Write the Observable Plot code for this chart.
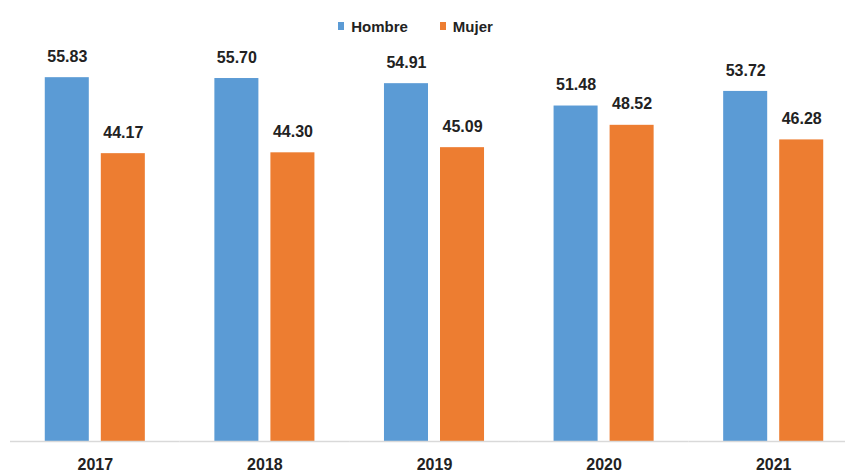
<!DOCTYPE html>
<html>
<head>
<meta charset="utf-8">
<script src="https://cdn.jsdelivr.net/npm/d3@7"></script>
<script src="https://cdn.jsdelivr.net/npm/@observablehq/plot@0.6"></script>
<style>
  html, body { margin: 0; padding: 0; background: #fff; }
  body { width: 845px; height: 474px; overflow: hidden; font-family: "Liberation Sans", Arial, sans-serif; }
  #legend { height: 40px; display: flex; justify-content: center; align-items: center; padding-top: 12px; box-sizing: border-box; padding-right: 14px; font-size: 15px; font-weight: bold; color: #222; }
  .item { display: flex; align-items: center; margin: 0 16px; }
  .sw { width: 6px; height: 8px; margin-right: 7px; }
</style>
</head>
<body>
<div id="legend"></div>
<div id="chart"></div>
<script>
const years = ["2017", "2018", "2019", "2020", "2021"];
const series = ["Hombre", "Mujer"];
const hombre = [55.83, 55.70, 54.91, 51.48, 53.72];
const mujer = [44.17, 44.30, 45.09, 48.52, 46.28];
const colors = ["#5B9BD5", "#ED7D31"];

const data = [];
years.forEach((y, i) => {
  data.push({year: y, sexo: "Hombre", value: hombre[i]});
  data.push({year: y, sexo: "Mujer", value: mujer[i]});
});

const legend = document.getElementById("legend");
series.forEach((s, i) => {
  const it = document.createElement("div");
  it.className = "item";
  const sw = document.createElement("span");
  sw.className = "sw";
  sw.style.background = colors[i];
  const tx = document.createElement("span");
  tx.textContent = s;
  it.appendChild(sw); it.appendChild(tx);
  legend.appendChild(it);
});

const chart = Plot.plot({
  width: 845,
  height: 434,
  marginTop: 10,
  marginBottom: 33,
  marginLeft: 10,
  marginRight: 0,
  style: {fontFamily: "'Liberation Sans', Arial, sans-serif", background: "#fff"},
  fx: {domain: years, range: [10, 858], padding: 0, round: false, label: null},
  x: {domain: series, paddingInner: 12 / 56, paddingOuter: 0.6205, round: false, axis: null},
  y: {domain: [0, 60], axis: null},
  color: {domain: series, range: colors},
  marks: [
    Plot.barY(data, {fx: "year", x: "sexo", y: "value", fill: "sexo"}),
    Plot.ruleY([0], {stroke: "#d9d9d9", strokeWidth: 1.5}),
    Plot.text(data, {fx: "year", x: "sexo", y: "value", text: d => d.value.toFixed(2), dy: -21, fontSize: 16, fontWeight: "bold", fill: "#222"}),
    Plot.axisFx({anchor: "bottom", tickSize: 0, tickPadding: 17, fontSize: 16, fontWeight: "bold", color: "#222", label: null})
  ]
});
document.getElementById("chart").appendChild(chart);
</script>
</body>
</html>
